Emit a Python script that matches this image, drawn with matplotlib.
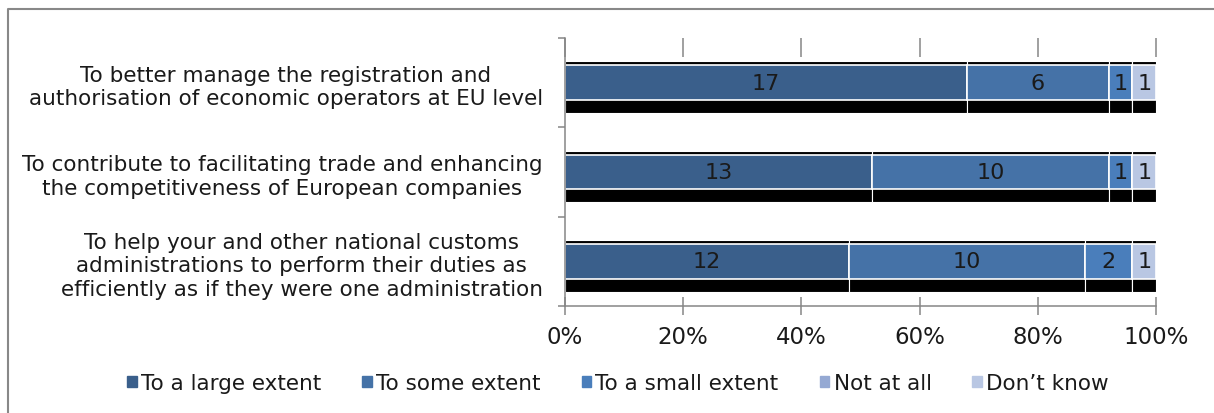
import matplotlib
matplotlib.use("Agg")
import matplotlib.pyplot as plt
import numpy as np
from matplotlib.patches import Rectangle

# Responses per objective (number of administrations)
objectives = [
    "To better manage the registration and\nauthorisation of economic operators at EU level",
    "To contribute to facilitating trade and enhancing\nthe competitiveness of European companies",
    "To help your and other national customs\nadministrations to perform their duties as\nefficiently as if they were one administration",
]
answers = ["To a large extent", "To some extent", "To a small extent", "Not at all", "Don\u2019t know"]
large_extent = [17, 13, 12]
some_extent = [6, 10, 10]
small_extent = [1, 1, 2]
not_at_all = [0, 0, 0]
dont_know = [1, 1, 1]
colors = ["#3A5F8B", "#4572A7", "#4A7EBB", "#95A9D3", "#B9C7E3"]

counts = np.array([large_extent, some_extent, small_extent, not_at_all, dont_know], dtype=float)
shares = counts / counts.sum(axis=0) * 100

GREY = "#868686"
TEXT = "#1a1a1a"

fig = plt.figure(figsize=(12.14, 4.14), dpi=100)
ax = fig.add_axes([565 / 1214, 1 - 307 / 414, (1156 - 565) / 1214, (307 - 39) / 414])

y = np.arange(len(objectives))
h = 0.39
left = np.zeros(len(objectives))
for vals, n, col in zip(shares, counts, colors):
    # black drop shadow behind each segment
    ax.barh(y + 0.05, vals, left=left, height=h + 0.19, color="black",
            edgecolor="white", linewidth=0.8, zorder=1)
    bars = ax.barh(y, vals, left=left, height=h, color=col,
                   edgecolor="white", linewidth=1.2, zorder=2)
    for b, v, c in zip(bars, vals, n):
        if c > 0:
            ax.text(b.get_x() + v / 2, b.get_y() + h / 2, f"{int(c)}",
                    ha="center", va="center", fontsize=16, color=TEXT, zorder=3)
    left += vals

ax.set_xlim(0, 100)
ax.set_ylim(len(objectives) - 0.5, -0.5)
ax.set_xticks(np.arange(0, 101, 20))
ax.set_xticklabels([f"{t}%" for t in range(0, 101, 20)], fontsize=16.5, color=TEXT)
ax.tick_params(axis="x", direction="inout", length=13, width=1.1, color=GREY, pad=7)

ax.set_yticks(y)
ax.set_yticklabels(objectives, fontsize=15.5, multialignment="center",
                   linespacing=1.22, color=TEXT)
ax.set_yticks(np.arange(-0.5, len(objectives)), minor=True)
ax.tick_params(axis="y", which="major", length=0, pad=16)
ax.tick_params(axis="y", which="minor", length=5, width=1.1, color=GREY)

for side in ["top", "right"]:
    ax.spines[side].set_visible(False)
for side in ["left", "bottom"]:
    ax.spines[side].set_color(GREY)
    ax.spines[side].set_linewidth(1.1)

# short tick marks along the top edge
top = ax.secondary_xaxis("top")
top.set_xticks(np.arange(0, 101, 20))
top.tick_params(direction="in", length=14, width=1.1, color=GREY, labeltop=False)
top.spines["top"].set_visible(False)

handles = [Rectangle((0, 0), 1, 1, color=c) for c in colors]
leg = fig.legend(handles, answers, loc="center", bbox_to_anchor=(618 / 1214, 1 - 384 / 414),
                 ncol=5, frameon=False, fontsize=15.5, handlelength=0.45, handleheight=0.45,
                 handletextpad=0.2, columnspacing=1.9)
for t in leg.get_texts():
    t.set_color(TEXT)

# chart area border (left and top)
fig.add_artist(plt.Line2D([8 / 1214, 8 / 1214, 1], [0, 1 - 10 / 414, 1 - 10 / 414],
                          transform=fig.transFigure, color="#888888", linewidth=1.5))

fig.savefig("out.png", dpi=100)
